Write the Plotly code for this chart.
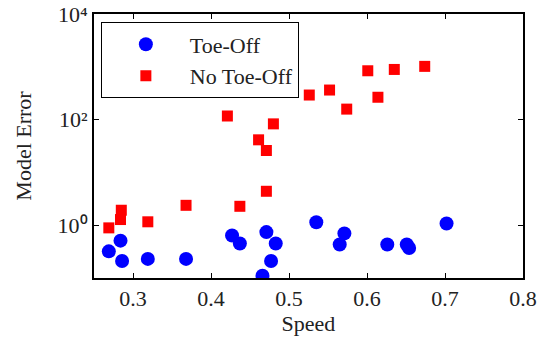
import plotly.graph_objects as go

# Toe-Off (blue circles)
toe_speed = [0.269, 0.284, 0.286, 0.319, 0.368, 0.427, 0.437, 0.466, 0.471, 0.477,
             0.483, 0.535, 0.565, 0.571, 0.626, 0.651, 0.654, 0.702]
toe_error = [0.32, 0.51, 0.21, 0.23, 0.23, 0.64, 0.45, 0.11, 0.74, 0.21,
             0.45, 1.14, 0.43, 0.70, 0.43, 0.43, 0.37, 1.08]

# No Toe-Off (red squares)
notoe_speed = [0.269, 0.284, 0.285, 0.319, 0.368, 0.421, 0.437, 0.461, 0.471, 0.471,
               0.480, 0.526, 0.552, 0.574, 0.601, 0.614, 0.635, 0.674]
notoe_error = [0.89, 1.28, 1.92, 1.16, 2.38, 117, 2.28, 41.4, 26.0, 4.39,
               83.0, 292, 363, 158, 841, 265, 891, 1019]

x_ticks = [0.3, 0.4, 0.5, 0.6, 0.7, 0.8]
y_ticks = [1, 100, 10000]
y_ticktext = ["10⁰", "10²", "10⁴"]

FONT = "Liberation Serif"
TXT = "#222222"
FS = 22

fig = go.Figure()
fig.add_trace(go.Scatter(
    x=toe_speed, y=toe_error, mode="markers", name="Toe-Off",
    marker=dict(symbol="circle", size=14, color="#0000ff", line=dict(width=0)),
))
fig.add_trace(go.Scatter(
    x=notoe_speed, y=notoe_error, mode="markers", name="No Toe-Off",
    marker=dict(symbol="square", size=11, color="#ff0000", line=dict(width=0)),
))

axis_common = dict(
    showgrid=False, zeroline=False, showline=True, linecolor="black", linewidth=2,
    mirror="ticks", ticks="inside", ticklen=5, tickwidth=1, tickcolor="black",
    tickfont=dict(family=FONT, size=FS, color=TXT), automargin=False,
    ticklabeloverflow="allow",
)

fig.update_layout(
    width=541, height=341,
    margin=dict(l=94, r=18, t=14, b=63),
    paper_bgcolor="white", plot_bgcolor="white",
    font=dict(family=FONT, size=FS, color=TXT),
    xaxis=dict(range=[0.25, 0.8], tickvals=x_ticks,
               ticktext=[f"{v:.1f}" for v in x_ticks],
               title=dict(text="Speed", font=dict(family=FONT, size=FS, color=TXT), standoff=4),
               **axis_common),
    yaxis=dict(type="log", range=[-1, 4], tickvals=y_ticks, ticktext=y_ticktext,
               title=dict(text="Model Error", font=dict(family=FONT, size=FS, color=TXT), standoff=20),
               **axis_common),
    legend=dict(x=0.016, y=0.968, xanchor="left", yanchor="top",
                bordercolor="black", borderwidth=1, bgcolor="white",
                font=dict(family=FONT, size=FS, color=TXT),
                itemwidth=78, tracegroupgap=0),
    showlegend=True,
)

fig.write_html("out.html", config={"displayModeBar": False},
               post_script="document.body.style.margin='0';")
